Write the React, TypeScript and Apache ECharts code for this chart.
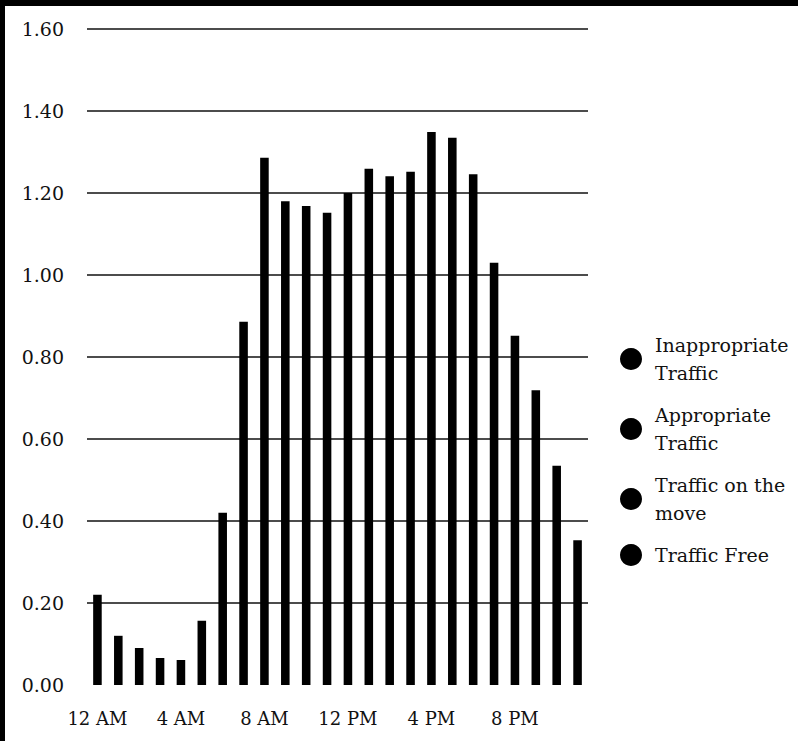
import React, { useEffect, useRef } from "react";
import * as echarts from "echarts";

const hours = [
  "12 AM", "1 AM", "2 AM", "3 AM", "4 AM", "5 AM", "6 AM", "7 AM",
  "8 AM", "9 AM", "10 AM", "11 AM", "12 PM", "1 PM", "2 PM", "3 PM",
  "4 PM", "5 PM", "6 PM", "7 PM", "8 PM", "9 PM", "10 PM", "11 PM",
];

const trafficValues = [
  0.22, 0.12, 0.09, 0.066, 0.061, 0.157, 0.42, 0.886,
  1.286, 1.18, 1.168, 1.152, 1.2, 1.259, 1.241, 1.252,
  1.349, 1.335, 1.246, 1.03, 0.852, 0.719, 0.535, 0.353,
];

const seriesNames = [
  "Inappropriate Traffic",
  "Appropriate Traffic",
  "Traffic on the move",
  "Traffic Free",
];

const legendLabels: Record<string, string> = {
  "Inappropriate Traffic": "Inappropriate\nTraffic",
  "Appropriate Traffic": "Appropriate\nTraffic",
  "Traffic on the move": "Traffic on the\nmove",
  "Traffic Free": "Traffic Free",
};

const yTicks = [0, 0.2, 0.4, 0.6, 0.8, 1.0, 1.2, 1.4, 1.6];

const FONT = "DejaVu Serif";

export default function App() {
  const ref = useRef<HTMLDivElement>(null);

  useEffect(() => {
    if (!ref.current) return;
    const chart = echarts.init(ref.current, null, { renderer: "svg" });

    const gridColors = yTicks.map((v) => (v === 0 ? "rgba(0,0,0,0)" : "#111111"));

    const series = seriesNames.map((name, i) => ({
      name,
      type: "bar" as const,
      stack: "total",
      barWidth: "41%",
      itemStyle: { color: "#000" },
      data: i === 0 ? trafficValues : [],
    }));

    chart.setOption({
      animation: false,
      backgroundColor: "#ffffff",
      textStyle: { fontFamily: FONT, color: "#111" },
      grid: { left: 87, right: 210, top: 29, bottom: 56, containLabel: false },
      xAxis: {
        type: "category",
        data: hours,
        axisLine: { show: false },
        axisTick: { show: false },
        axisLabel: {
          interval: 3,
          margin: 24,
          fontFamily: FONT,
          fontSize: 18,
          color: "#111",
        },
      },
      yAxis: {
        type: "value",
        min: 0,
        max: 1.6,
        interval: 0.2,
        axisLine: { show: false },
        axisTick: { show: false },
        axisLabel: {
          margin: 23,
          fontFamily: FONT,
          fontSize: 19,
          color: "#111",
          formatter: (v: number) => v.toFixed(2),
        },
        splitLine: {
          show: true,
          lineStyle: { color: gridColors, width: 1.6 },
        },
      },
      legend: {
        orient: "vertical",
        left: 615,
        top: 326,
        icon: "circle",
        itemWidth: 22,
        itemHeight: 22,
        itemGap: 14,
        data: seriesNames,
        formatter: (name: string) => legendLabels[name] ?? name,
        textStyle: {
          fontFamily: FONT,
          fontSize: 19,
          lineHeight: 28,
          color: "#111",
          padding: [0, 0, 0, 8],
        },
        itemStyle: { color: "#000" },
      },
      graphic: [
        { type: "rect", left: 0, top: 0, shape: { width: 798, height: 6 }, style: { fill: "#000" }, silent: true },
        { type: "rect", left: 0, top: 0, shape: { width: 5, height: 741 }, style: { fill: "#000" }, silent: true },
      ],
      series,
    });

    return () => chart.dispose();
  }, []);

  return (
    <div
      ref={ref}
      style={{ position: "absolute", left: 0, top: 0, width: 798, height: 741 }}
    />
  );
}
